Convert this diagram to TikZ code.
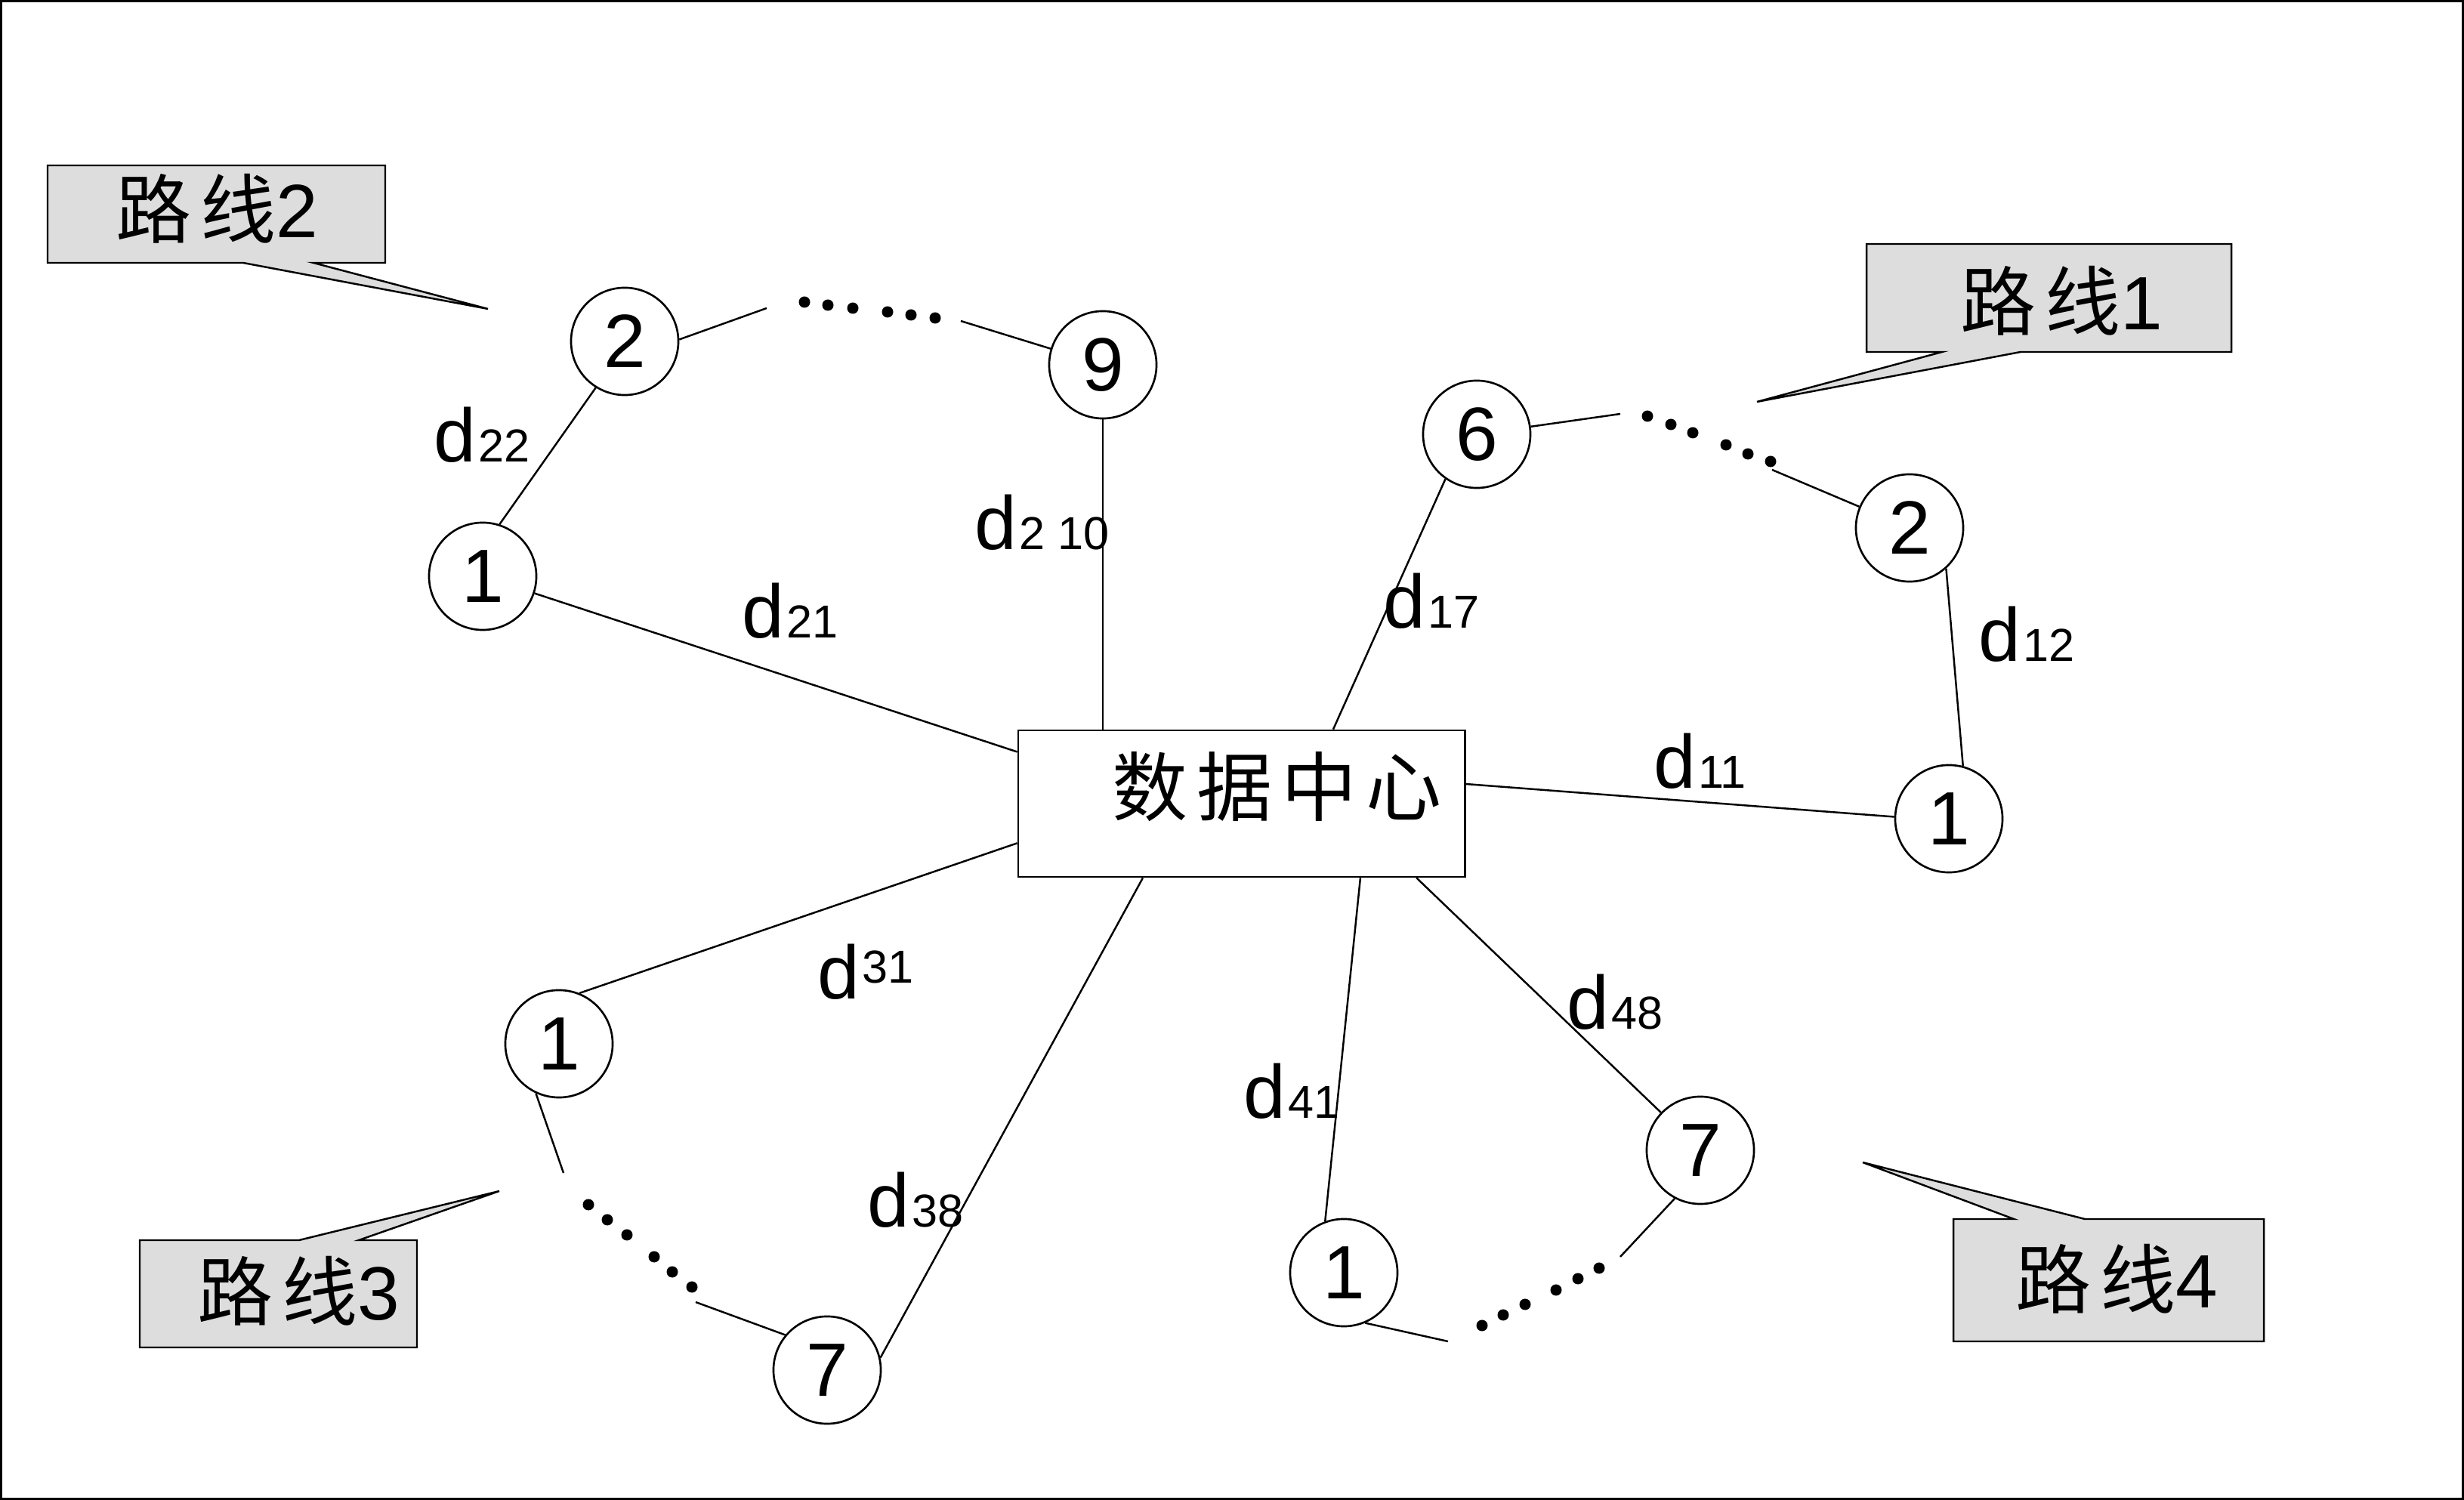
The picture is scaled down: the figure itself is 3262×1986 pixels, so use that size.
\documentclass[tikz,border=0pt]{standalone}
\usepackage{fontspec}
\setmainfont{Liberation Sans}
\newfontfamily\cjk{Noto Sans CJK SC}
\newcommand\bigsz{\fontsize{28.45pt}{34pt}\selectfont}
\newcommand\subsz{\fontsize{17.4pt}{21pt}\selectfont}
\newcommand\cjkgap{\hspace{3.4pt}}
\newcommand\dsub[1]{d\kern1pt{\subsz #1}}
\definecolor{calloutgray}{RGB}{221,221,221}
\begin{document}
\begin{tikzpicture}[x=0.01cm,y=-0.01cm,
  every path/.style={line width=0.7pt},
  vtx/.style={circle,draw,line width=0.75pt,minimum size=1.42cm,inner sep=0pt,font=\bigsz},
  hubbox/.style={draw,line width=0.75pt,minimum width=5.91cm,minimum height=1.94cm,inner sep=0pt},
  lbl/.style={anchor=base west,inner sep=0pt,font=\bigsz},
  ctext/.style={anchor=base,inner sep=0pt,font=\bigsz},
  callout/.style={fill=calloutgray,draw,line width=0.7pt,line join=miter},
  dotmark/.style={fill=black}
]
\useasboundingbox (0,0) rectangle (3262,1986);
\draw[line width=0.85pt] (1.5,1.5) rectangle (3260.5,1984.5);

% data centre
\node[hubbox] (hub) at (1643.5,1064) {};
\node[ctext,font=\bigsz\cjk] (hubtxt) at (1691,1080) {数\cjkgap 据\cjkgap 中\cjkgap 心};

% route nodes
\node[vtx] (n21) at (639,763) {1};
\node[vtx] (n22) at (827,452) {2};
\node[vtx] (n29) at (1460,483) {9};
\node[vtx] (n16) at (1955,575) {6};
\node[vtx] (n12) at (2528,699) {2};
\node[vtx] (n11) at (2580,1084) {1};
\node[vtx] (n31) at (740,1382) {1};
\node[vtx] (n37) at (1095,1814) {7};
\node[vtx] (n41) at (1779,1685) {1};
\node[vtx] (n47) at (2251,1523) {7};

% links to the data centre
\draw (n21) -- (hub.167.97);
\draw (n29) -- (n29 |- hub.north);
\draw (n16.235) -- (hub.39.8);
\draw (n11.178) -- (hub.5.4);
\draw (n31.68) -- (hub.190.5);
\draw (n37.13) -- (hub.217.05);
\draw (n41.110) -- (hub.328.5);
\draw (n47) -- (hub.337.95);

% links inside the routes
\draw (n21.72) -- (n22.238);
\draw (n12.312) -- (n11.75);

% elided stretches of each route
\coordinate (r2a) at (1015,408);
\coordinate (r2b) at (1272,425);
\coordinate (r1a) at (2145,548);
\coordinate (r1b) at (2346,622);
\coordinate (r3a) at (746,1553);
\coordinate (r3b) at (921,1724);
\coordinate (r4a) at (1917,1776);
\coordinate (r4b) at (2145,1664);
\draw (n22.2) -- (r2a);
\draw (r2b) -- (n29);
\draw (n16) -- (r1a);
\draw (r1b) -- (n12);
\draw (n31.245) -- (r3a);
\draw (r3b) -- (n37.140);
\draw (n41.293) -- (r4a);
\draw (r4b) -- (n47.242);
\foreach \p in {(1065,400),(1096,404),(1129,408),(1175,413),(1206,417),(1238,421),
                (2181,551),(2212,562),(2241,573),(2285,589),(2314,601),(2344,611),
                (779,1595),(804,1615),(830,1635),(866,1664),(890,1684),(916,1704),
                (1962,1755),(1990,1741),(2019,1727),(2060,1708),(2089,1693),(2117,1679)}
  \fill[dotmark] \p circle[radius=0.075cm];

% distance labels
\node[lbl] (l22) at (573,612) {\dsub{22}};
\node[lbl] (l210) at (1289,728) {\dsub{2 10}};
\node[lbl] (l21) at (981,845) {\dsub{21}};
\node[lbl] (l17) at (1830,832) {\dsub{17}};
\node[lbl] (l12) at (2618,876) {\dsub{12}};
\node[lbl] (l11) at (2188,1044) {\dsub{11}};
\node[lbl] (l31) at (1081,1323) {d\kern1pt\raisebox{6pt}{\subsz 31}};
\node[lbl] (l48) at (2073,1363) {\dsub{48}};
\node[lbl] (l41) at (1645,1481) {\dsub{41}};
\node[lbl] (l38) at (1147,1625) {\dsub{38}};

% callouts
\coordinate (t2) at (646,409);
\coordinate (t1) at (2326,532);
\coordinate (t3) at (661,1577);
\coordinate (t4) at (2466,1539);
\draw[callout] (63,219) -- (510,219) -- (510,348) -- (415,348) -- (t2) -- (322,348) -- (63,348) -- cycle;
\draw[callout] (2471,323) -- (2954,323) -- (2954,466) -- (2675,466) -- (t1) -- (2571,466) -- (2471,466) -- cycle;
\draw[callout] (185,1642) -- (396,1642) -- (t3) -- (475,1642) -- (552,1642) -- (552,1784) -- (185,1784) -- cycle;
\draw[callout] (2586,1614) -- (2666,1614) -- (t4) -- (2760,1614) -- (2997,1614) -- (2997,1776) -- (2586,1776) -- cycle;
\node[ctext] (c2) at (287,315) {{\cjk 路\cjkgap 线}2};
\node[ctext] (c1) at (2729,437) {{\cjk 路\cjkgap 线}1};
\node[ctext] (c3) at (395,1748) {{\cjk 路\cjkgap 线}3};
\node[ctext] (c4) at (2802,1732) {{\cjk 路\cjkgap 线}4};
\end{tikzpicture}
\end{document}
